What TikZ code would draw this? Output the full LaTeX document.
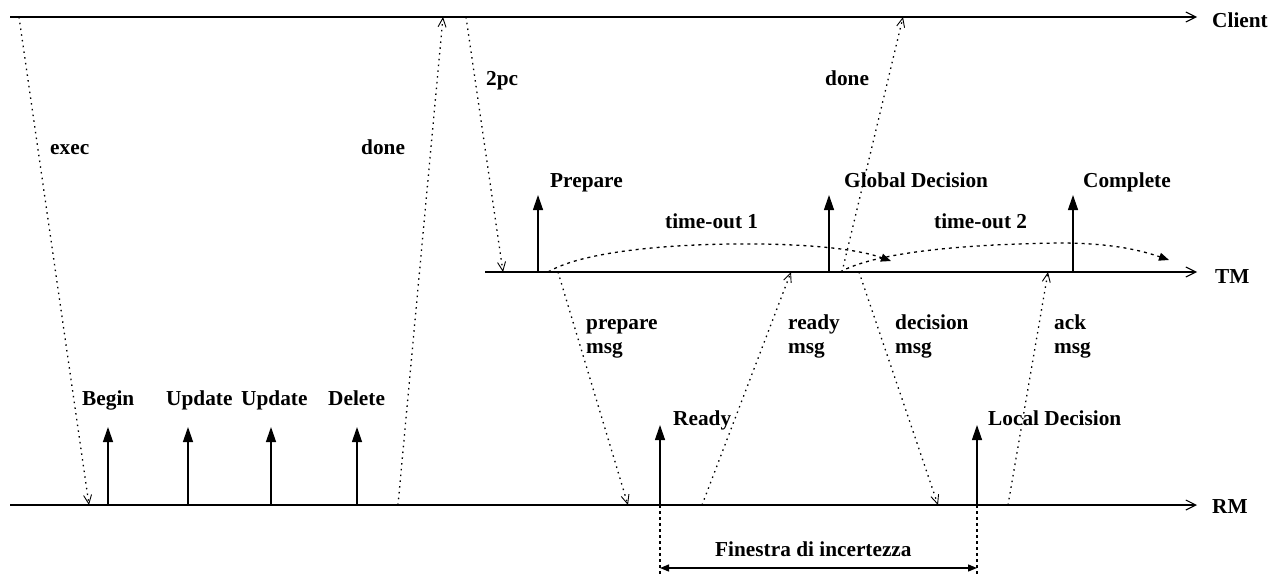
\documentclass[tikz,border=0pt]{standalone}
\usepackage{fontspec}
\setmainfont{Liberation Serif}
\usetikzlibrary{arrows.meta}
\begin{document}
\begin{tikzpicture}[x=1pt,y=-1pt,
  lbl/.style={anchor=base west,inner sep=0pt,font=\fontsize{21.3}{24}\selectfont\bfseries,align=left},
  axis/.style={line width=1.2pt,-{Straight Barb[length=10pt,width=10pt,line width=1.1pt]}},
  event/.style={line width=1.3pt,-{Triangle[length=15pt,width=10pt]}},
  msg/.style={line width=1.3pt,dash pattern=on 1.5pt off 4.3pt,-{Straight Barb[length=9pt,width=8pt,line width=0.9pt]}},
  timeout/.style={line width=1.3pt,dash pattern=on 3pt off 4pt,-{Triangle[length=10pt,width=8pt]}},
  window/.style={line width=1.7pt,dash pattern=on 3pt off 3pt},
  span/.style={line width=1.3pt,{Triangle[length=9pt,width=7pt]}-{Triangle[length=9pt,width=7pt]}}]
\useasboundingbox (0,0) rectangle (1287,574);

% lifelines
\coordinate (cl0) at (10,17);   \coordinate (cl1) at (1197,17);
\coordinate (tm0) at (485,272); \coordinate (tm1) at (1197,272);
\coordinate (rm0) at (10,505);  \coordinate (rm1) at (1197,505);
\draw[axis] (cl0) -- (cl1);
\draw[axis] (tm0) -- (tm1);
\draw[axis] (rm0) -- (rm1);
\node[lbl] (client) at (1212,27) {Client};
\node[lbl] (tmlab) at (1215,283) {TM};
\node[lbl] (rmlab) at (1212,513) {RM};

% local events of the resource manager
\foreach \n/\x/\t in {begin/108/427,upd1/188/427,upd2/271/427,del/357/427,ready/660/425,local/977/425}{
  \coordinate (\n B) at (\x,505);
  \coordinate (\n T) at (\x,\t);
  \draw[event] (\n B) -- (\n T);
}
\node[lbl] (lbegin) at (82,405) {Begin};
\node[lbl] (lupd1) at (166,405) {Update};
\node[lbl] (lupd2) at (241,405) {Update};
\node[lbl] (ldel) at (328,405) {Delete};
\node[lbl] (lready) at (673,425) {Ready};
\node[lbl] (llocal) at (988,425) {Local Decision};

% log records of the transaction manager
\foreach \n/\x in {prep/538,glob/829,compl/1073}{
  \coordinate (\n B) at (\x,272);
  \coordinate (\n T) at (\x,195);
  \draw[event] (\n B) -- (\n T);
}
\node[lbl] (lprep) at (550,187) {Prepare};
\node[lbl] (lglob) at (844,187) {Global Decision};
\node[lbl] (lcompl) at (1083,187) {Complete};

% messages
\coordinate (execS) at (19,17);    \coordinate (execE) at (89,505);
\coordinate (doneAS) at (398,505); \coordinate (doneAE) at (443,17);
\coordinate (tpcS) at (466,17);    \coordinate (tpcE) at (503,272);
\coordinate (prepS) at (558,272);  \coordinate (prepE) at (628,505);
\coordinate (rdyS) at (702,505);   \coordinate (rdyE) at (791,272);
\coordinate (decS) at (859,272);   \coordinate (decE) at (938,505);
\coordinate (ackS) at (1008,505);  \coordinate (ackE) at (1048,272);
\coordinate (doneBS) at (842,272); \coordinate (doneBE) at (903,17);
\draw[msg] (execS) -- (execE);
\draw[msg] (doneAS) -- (doneAE);
\draw[msg] (tpcS) -- (tpcE);
\draw[msg] (prepS) -- (prepE);
\draw[msg] (rdyS) -- (rdyE);
\draw[msg] (decS) -- (decE);
\draw[msg] (ackS) -- (ackE);
\draw[msg] (doneBS) -- (doneBE);
\node[lbl] (lexec) at (50,154) {exec};
\node[lbl] (ldoneA) at (361,154) {done};
\node[lbl] (ltpc) at (486,85) {2pc};
\node[lbl] (ldoneB) at (825,85) {done};
% two-line labels: the base anchor sits on the last line
\node[lbl] (lprepm) at (586,353) {prepare\\msg};
\node[lbl] (lrdym) at (788,353) {ready\\msg};
\node[lbl] (ldecm) at (895,353) {decision\\msg};
\node[lbl] (lackm) at (1054,353) {ack\\msg};

% time-outs
\coordinate (to1S) at (548,272); \coordinate (to1M) at (762,244); \coordinate (to1E) at (891,261);
\coordinate (to2S) at (840,272); \coordinate (to2M) at (1060,243); \coordinate (to2E) at (1169,260);
\draw[timeout] (to1S) .. controls (585,250) and (680,243) .. (to1M) .. controls (820,245) and (860,250) .. (to1E);
\draw[timeout] (to2S) .. controls (880,250) and (980,244) .. (to2M) .. controls (1110,243) and (1140,250) .. (to2E);
\node[lbl] (lto1) at (665,228) {time-out 1};
\node[lbl] (lto2) at (934,228) {time-out 2};

% uncertainty window
\coordinate (w1T) at (660,505); \coordinate (w1B) at (660,574);
\coordinate (w2T) at (977,505); \coordinate (w2B) at (977,574);
\coordinate (wA) at (660,568);  \coordinate (wB) at (977,568);
\draw[window] (w1T) -- (w1B);
\draw[window] (w2T) -- (w2B);
\draw[span] (wA) -- (wB);
\node[lbl] (lwin) at (715,556) {Finestra di incertezza};
\end{tikzpicture}
\end{document}
